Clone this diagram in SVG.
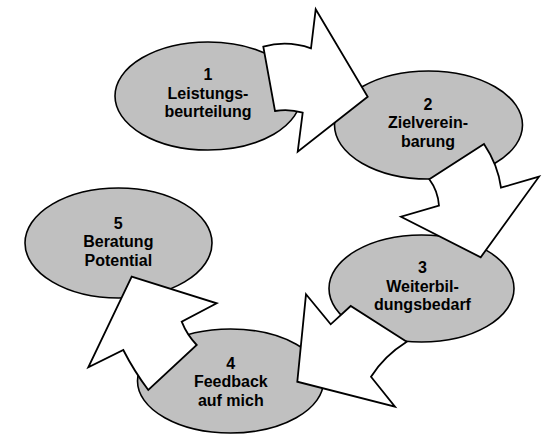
<svg xmlns="http://www.w3.org/2000/svg" width="544" height="435" viewBox="0 0 544 435">
<style>
.node ellipse{fill:#c0c0c0;stroke:#000;stroke-width:1.6}
.node text{font-family:"Liberation Sans",Arial,sans-serif;font-weight:bold;font-size:16px;fill:#000;text-anchor:middle}
.conn path{fill:#fff;stroke:#000;stroke-width:1.8;stroke-linejoin:miter}
</style>
<rect width="544" height="435" fill="#fff"/>
<g id="node1" class="node">
<ellipse cx="208" cy="96" rx="93" ry="54"/>
<text x="208" y="80">1</text>
<text x="208" y="98.5">Leistungs-</text>
<text x="208" y="117">beurteilung</text>
</g>
<g id="node2" class="node">
<ellipse cx="428.5" cy="125" rx="94" ry="54"/>
<text x="428" y="109.5">2</text>
<text x="428" y="128">Zielverein-</text>
<text x="428" y="146.5">barung</text>
</g>
<g id="node3" class="node">
<ellipse cx="421.5" cy="288.5" rx="92.5" ry="53.5"/>
<text x="422.5" y="273">3</text>
<text x="422.5" y="291.5">Weiterbil-</text>
<text x="422.5" y="310">dungsbedarf</text>
</g>
<g id="node4" class="node">
<ellipse cx="230.5" cy="381" rx="93" ry="52"/>
<text x="230.8" y="368.5">4</text>
<text x="230.8" y="387">Feedback</text>
<text x="230.8" y="405.5">auf mich</text>
</g>
<g id="node5" class="node">
<ellipse cx="118.5" cy="243" rx="93.5" ry="55"/>
<text x="118.3" y="228.5">5</text>
<text x="118.3" y="247">Beratung</text>
<text x="118.3" y="265.5">Potential</text>
</g>
<g id="connectors" class="conn">
<path d="M263.3,46.7 Q287,40 311,48.3 L315.7,9.3 L367.7,96.7 L297.7,151.7 L302.7,112.7 Q289,108.5 275,111 Z"/>
<path d="M484,144 Q498,165 501,187.7 L539,176.7 L480.7,257.3 L401,216.7 L439,205.7 Q438,191 429.3,179.3 Z"/>
<path d="M306,294.3 L330.7,324.3 L350.7,306 L406.7,341.7 Q384,356 371,376.7 L395,406.7 L297.3,381.7 Z"/>
<path d="M131.7,276.7 L216.7,303.3 L181.7,321.7 Q187,335 196.7,345 L148.3,390 Q134,371 123.3,350 L88.3,367.3 Z"/>
</g>
</svg>
